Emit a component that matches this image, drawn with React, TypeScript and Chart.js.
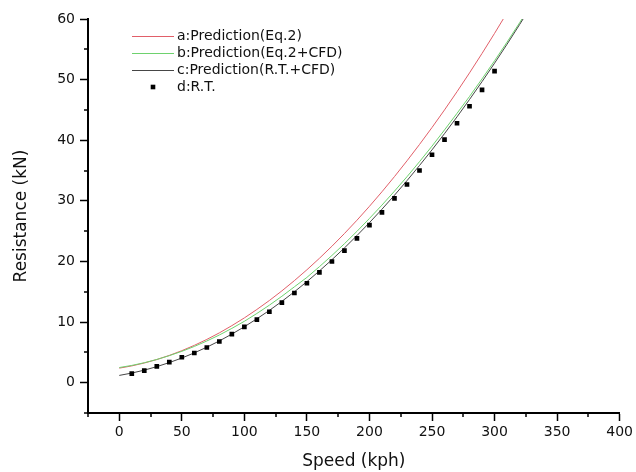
import React, { useEffect, useRef } from "react";
import { Chart, registerables } from "chart.js";

Chart.register(...registerables);

// Curve sample speeds (kph)
const curveSpeeds = [0, 10, 20, 30, 40, 50, 60, 70, 80, 90, 100, 110, 120, 130, 140, 150, 160, 170, 180, 190, 200, 210, 220, 230, 240, 250, 260, 270, 280, 290, 300, 310, 320, 330];

// a: Prediction(Eq.2)
const predEq2 = [2.4, 2.77, 3.25, 3.82, 4.5, 5.28, 6.16, 7.14, 8.22, 9.41, 10.69, 12.08, 13.56, 15.15, 16.84, 18.63, 20.52, 22.51, 24.61, 26.8, 29.1, 31.5, 34.0, 36.6, 39.3, 42.1, 45.0, 48.01, 51.11, 54.32, 57.63, 61.04];

// b: Prediction(Eq.2+CFD)
const predEq2Cfd = [2.5, 2.85, 3.29, 3.83, 4.46, 5.17, 5.98, 6.88, 7.87, 8.96, 10.13, 11.42, 12.79, 14.26, 15.82, 17.37, 19.14, 20.99, 22.93, 24.97, 27.1, 29.3, 31.6, 33.98, 36.46, 39.03, 41.7, 44.44, 47.22, 50.12, 53.11, 56.19, 59.37, 62.64];

// c: Prediction(R.T.+CFD)
const predRtCfd = [1.2, 1.59, 2.07, 2.65, 3.32, 4.07, 4.92, 5.86, 6.89, 8.02, 9.23, 10.54, 11.93, 13.42, 15.0, 16.67, 18.44, 20.29, 22.23, 24.27, 26.4, 28.62, 30.93, 33.33, 35.83, 38.41, 41.09, 43.86, 46.72, 49.67, 52.71, 55.84, 59.07, 62.39];

// d: R.T. measured points
const rtSpeeds = [10, 20, 30, 40, 50, 60, 70, 80, 90, 100, 110, 120, 130, 140, 150, 160, 170, 180, 190, 200, 210, 220, 230, 240, 250, 260, 270, 280, 290, 300];
const rtValues = [1.5, 2.0, 2.7, 3.4, 4.2, 4.9, 5.8, 6.8, 8.0, 9.2, 10.4, 11.7, 13.2, 14.8, 16.4, 18.2, 20.0, 21.8, 23.8, 26.0, 28.1, 30.4, 32.7, 35.0, 37.6, 40.1, 42.8, 45.6, 48.3, 51.4];

const seriesLabels = ["a:Prediction(Eq.2)", "b:Prediction(Eq.2+CFD)", "c:Prediction(R.T.+CFD)", "d:R.T."];

const X_MAJOR = 50;
const Y_MAJOR = 10;

const FONT = '"DejaVu Sans", "Liberation Sans", Arial, sans-serif';

const toXY = (xs: number[], ys: number[]) => ys.map((y, i) => ({ x: xs[i], y }));

const minorTicksPlugin = {
  id: "minorTicks",
  afterDraw(chart: any) {
    const { ctx } = chart;
    const xs = chart.scales.x;
    const ys = chart.scales.y;
    ctx.save();
    ctx.strokeStyle = "#000";
    ctx.lineWidth = 1.5;
    ctx.beginPath();
    xs.ticks.forEach((t: any) => {
      if (Math.abs(t.value % X_MAJOR) > 1e-6) {
        const px = Math.round(xs.getPixelForValue(t.value));
        ctx.moveTo(px, xs.top);
        ctx.lineTo(px, xs.top + 4);
      }
    });
    ys.ticks.forEach((t: any) => {
      if (Math.abs(t.value % Y_MAJOR) > 1e-6) {
        const py = Math.round(ys.getPixelForValue(t.value));
        ctx.moveTo(ys.right, py);
        ctx.lineTo(ys.right - 4, py);
      }
    });
    ctx.stroke();
    ctx.restore();
  },
};

const legendPlugin = {
  id: "insideLegend",
  afterDraw(chart: any) {
    const { ctx, chartArea } = chart;
    const x0 = chartArea.left + 44;
    const y0 = chartArea.top + 17;
    const dy = 17;
    const lineLen = 42;
    ctx.save();
    ctx.font = `14px ${FONT}`;
    ctx.textBaseline = "middle";
    ctx.textAlign = "left";
    seriesLabels.forEach((label, i) => {
      const ds = chart.data.datasets.find((d: any) => d.label === label);
      const y = y0 + i * dy;
      if (ds && ds.showLine) {
        ctx.strokeStyle = ds.borderColor;
        ctx.lineWidth = 1;
        ctx.beginPath();
        ctx.moveTo(x0, y + 0.5);
        ctx.lineTo(x0 + lineLen, y + 0.5);
        ctx.stroke();
      } else {
        ctx.fillStyle = "#000";
        ctx.fillRect(x0 + lineLen / 2 - 2.3, y - 2.3, 4.6, 4.6);
      }
      ctx.fillStyle = "#111";
      ctx.fillText(label, x0 + lineLen + 3, y);
    });
    ctx.restore();
  },
};

export default function App() {
  const canvasRef = useRef<HTMLCanvasElement | null>(null);

  useEffect(() => {
    if (!canvasRef.current) return;
    const chart = new Chart(canvasRef.current, {
      type: "scatter",
      data: {
        datasets: [
          {
            label: seriesLabels[3],
            data: toXY(rtSpeeds, rtValues),
            showLine: false,
            pointStyle: "rect",
            pointRadius: 3.3,
            pointBackgroundColor: "#000",
            pointBorderWidth: 0,
            order: 0,
          },
          {
            label: seriesLabels[2],
            data: toXY(curveSpeeds, predRtCfd),
            showLine: true,
            borderColor: "rgb(70,70,70)",
            borderWidth: 1,
            pointRadius: 0,
            order: 1,
          },
          {
            label: seriesLabels[1],
            data: toXY(curveSpeeds, predEq2Cfd),
            showLine: true,
            borderColor: "rgb(110,210,110)",
            borderWidth: 1,
            pointRadius: 0,
            order: 2,
          },
          {
            label: seriesLabels[0],
            data: toXY(curveSpeeds, predEq2),
            showLine: true,
            borderColor: "rgb(225,95,105)",
            borderWidth: 1,
            pointRadius: 0,
            order: 3,
          },
        ] as any,
      },
      options: {
        animation: false,
        responsive: false,
        devicePixelRatio: 1,
        layout: { padding: { left: 0, top: 19, right: 13, bottom: 0 } },
        plugins: {
          legend: { display: false },
          tooltip: { enabled: false },
        },
        scales: {
          x: {
            type: "linear",
            min: -25,
            max: 400,
            afterFit: (s: any) => {
              s.height = 59;
            },
            ticks: {
              stepSize: 25,
              autoSkip: false,
              maxRotation: 0,
              padding: 3,
              color: "#111",
              font: { family: FONT, size: 14 },
              callback: (v: any) => (Number(v) % X_MAJOR === 0 && Number(v) >= 0 ? String(v) : ""),
            },
            grid: {
              display: true,
              drawOnChartArea: false,
              drawTicks: true,
              tickLength: 8,
              tickWidth: 1.5,
              tickColor: (c: any) => (c.tick && c.tick.value % X_MAJOR === 0 ? "#000" : "rgba(0,0,0,0)"),
            },
            border: { display: true, color: "#000", width: 2 },
            title: {
              display: true,
              text: "Speed (kph)",
              color: "#111",
              font: { family: FONT, size: 17 },
              padding: { top: 0, bottom: 0 },
            },
          },
          y: {
            type: "linear",
            min: -5,
            max: 60,
            afterFit: (s: any) => {
              s.width = 88;
            },
            ticks: {
              stepSize: 5,
              autoSkip: false,
              padding: 5,
              color: "#111",
              font: { family: FONT, size: 14 },
              callback: (v: any) => (Number(v) % Y_MAJOR === 0 && Number(v) >= 0 ? String(v) : ""),
            },
            grid: {
              display: true,
              drawOnChartArea: false,
              drawTicks: true,
              tickLength: 8,
              tickWidth: 1.5,
              tickColor: (c: any) => (c.tick && c.tick.value % Y_MAJOR === 0 ? "#000" : "rgba(0,0,0,0)"),
            },
            border: { display: true, color: "#000", width: 2 },
            title: {
              display: true,
              text: "Resistance (kN)",
              color: "#111",
              font: { family: FONT, size: 17 },
              padding: { top: 11, bottom: 0 },
            },
          },
        },
      },
      plugins: [minorTicksPlugin, legendPlugin],
    });
    return () => chart.destroy();
  }, []);

  return (
    <div style={{ position: "absolute", left: 0, top: 0, width: 636, height: 472, background: "#fff" }}>
      <canvas ref={canvasRef} width={636} height={472} style={{ display: "block" }} />
    </div>
  );
}
